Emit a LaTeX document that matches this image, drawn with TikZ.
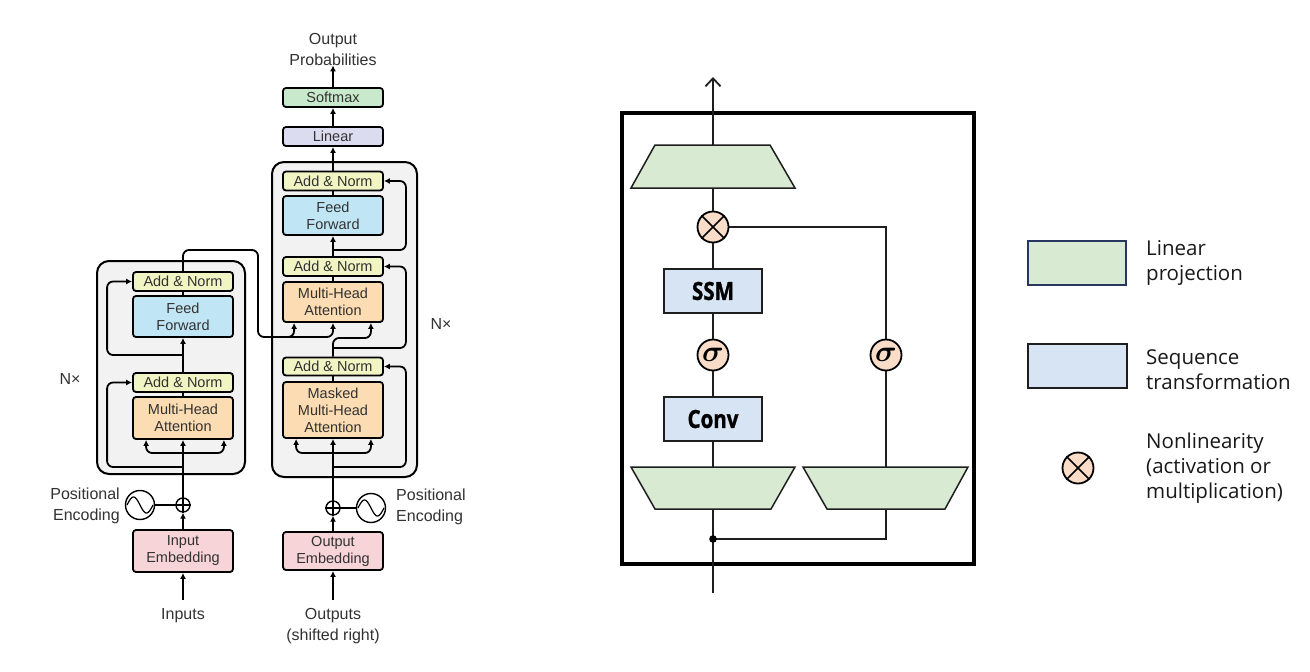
\RequirePackage{fix-cm}
\documentclass[tikz,border=0pt]{standalone}
\usepackage{bm}
\usepackage{fontspec}
\setmainfont{Liberation Sans}
\newfontfamily\legendfont{Open Sans}
\newfontfamily\seqfont[FakeStretch=0.82, BoldFeatures={FakeBold=1.2}]{Open Sans}
\usetikzlibrary{arrows.meta,calc}
\definecolor{layercol}{RGB}{242,242,242}
\definecolor{ancol}{RGB}{240,245,195}
\definecolor{ffcol}{RGB}{192,230,246}
\definecolor{mhacol}{RGB}{252,220,178}
\definecolor{embcol}{RGB}{247,212,216}
\definecolor{lincol}{RGB}{220,220,240}
\definecolor{softcol}{RGB}{201,233,205}
\definecolor{txtgray}{RGB}{50,50,50}
\definecolor{trapcol}{RGB}{217,234,211}
\definecolor{seqcol}{RGB}{214,228,243}
\definecolor{nlcol}{RGB}{250,221,200}
\definecolor{mgray}{RGB}{30,30,30}
\definecolor{legnavy}{RGB}{40,55,95}
\begin{document}
\begin{tikzpicture}[x=1pt,y=-1pt,
  tbox/.style={draw=black, line width=1.8pt, rounded corners=3pt, minimum width=100pt, inner sep=0pt, align=center, font=\fontsize{14.5}{17}\selectfont, text=txtgray},
  an/.style={tbox, fill=ancol, minimum height=19pt},
  ffbox/.style={tbox, fill=ffcol, minimum height=41pt},
  mha/.style={tbox, fill=mhacol, minimum height=42pt},
  emb/.style={tbox, fill=embcol, minimum height=42pt},
  layer/.style={draw=black, line width=2pt, fill=layercol, rounded corners=12pt, inner sep=0pt},
  tline/.style={line width=1.8pt, draw=black},
  tarr/.style={tline, -{Latex[length=6pt,width=6pt]}},
  rc/.style={rounded corners=6pt},
  lab/.style={font=\fontsize{16}{21}\selectfont, text=txtgray, align=center, inner sep=0pt},
  plus/.style={circle, draw=black, line width=1.4pt, fill=white, minimum size=14pt, inner sep=0pt},
  sine/.style={circle, draw=black, line width=1.4pt, fill=white, minimum size=29pt, inner sep=0pt},
  trap/.style={draw=mgray, line width=1.5pt, fill=trapcol},
  seq/.style={draw=mgray, line width=1.7pt, fill=seqcol, minimum width=98pt, minimum height=44pt, inner sep=0pt, font=\seqfont\bfseries\fontsize{25}{25}\selectfont},
  nl/.style={circle, draw=black, line width=1.8pt, fill=nlcol, minimum size=31pt, inner sep=0pt, font=\fontsize{30}{30}\selectfont},
  mline/.style={line width=1.8pt, draw=mgray},
  legtxt/.style={font=\legendfont\fontsize{20.5}{25}\selectfont, align=left, inner sep=0pt, anchor=west, text=black!90}
]
\useasboundingbox (0,0) rectangle (1310,672);
\fill[white] (0,0) rectangle (1310,672);

% ---------------- Transformer: encoder ----------------
\node[layer, minimum width=148pt, minimum height=213pt] (encbox) at (171,367.5) {};
\node[an] (eAN2) at (183,281.5) {Add \& Norm};
\node[ffbox] (eFF) at (183,316.5) {Feed\\Forward};
\node[an] (eAN1) at (183,382.5) {Add \& Norm};
\node[mha] (eMHA) at (183,418) {Multi-Head\\Attention};
\node[emb] (eEmb) at (183,551) {Input\\Embedding};
\node[plus] (eplus) at (183,505) {};
\draw[line width=1.2pt] (eplus.north) -- (eplus.south) (eplus.west) -- (eplus.east);
\node[sine] (esine) at (140,505) {};
\draw[line width=1.2pt, shift={(esine.center)}] plot[domain=-13:13, samples=40, smooth] (\x,{8*sin(\x/13*180)});
\node[lab, align=right, anchor=east] (epos) at (120,506) {Positional\\Encoding};
\node[lab] (inputs) at (183,616) {Inputs};
\node[lab] (enx) at (70,379) {N×};

\coordinate (eIn) at (183,600);
\draw[tarr] (eIn) -- (eEmb.south);
\draw[tarr] (eEmb.north) -- (eplus.south);
\draw[tline] (esine.east) -- (eplus.west);
\draw[tarr] (eplus.north) -- (eMHA.south);
\coordinate (eSplit) at (183,453);
\draw[tarr, rc] (eSplit) -| ([xshift=14pt]eMHA.south west);
\draw[tarr, rc] (eSplit) -| ([xshift=-10pt]eMHA.south east);
\coordinate (eRes1) at (183,467);
\draw[tarr, rc] (eRes1) -| ([xshift=-25pt]eAN1.west) -- (eAN1.west);
\draw[tline] (eMHA.north) -- (eAN1.south);
\draw[tarr] (eAN1.north) -- (eFF.south);
\coordinate (eRes2) at (183,355);
\draw[tarr, rc] (eRes2) -| ([xshift=-25pt]eAN2.west) -- (eAN2.west);
\draw[tline] (eFF.north) -- (eAN2.south);

% ---------------- Transformer: decoder ----------------
\node[layer, minimum width=145pt, minimum height=315pt] (decbox) at (344.5,319.5) {};
\node[an] (dAN3) at (333,181) {Add \& Norm};
\node[ffbox, minimum height=39pt] (dFF) at (333,215.5) {Feed\\Forward};
\node[an] (dAN2) at (333,266.5) {Add \& Norm};
\node[mha, minimum height=40pt] (dMHA) at (333,302) {Multi-Head\\Attention};
\node[an, minimum height=18pt] (dAN1) at (333,366.5) {Add \& Norm};
\node[mha, minimum height=56pt] (dMMHA) at (333,410) {Masked\\Multi-Head\\Attention};
\node[emb, minimum height=38pt] (dEmb) at (333,551) {Output\\Embedding};
\node[tbox, fill=lincol, minimum height=19pt] (lin) at (333,136.5) {Linear};
\node[tbox, fill=softcol, minimum height=19pt] (soft) at (333,97.5) {Softmax};
\node[plus] (dplus) at (333,508) {};
\draw[line width=1.2pt] (dplus.north) -- (dplus.south) (dplus.west) -- (dplus.east);
\node[sine] (dsine) at (371,508) {};
\draw[line width=1.2pt, shift={(dsine.center)}] plot[domain=-13:13, samples=40, smooth] (\x,{8*sin(\x/13*180)});
\node[lab, align=left, anchor=west] (dpos) at (396,507) {Positional\\Encoding};
\node[lab] (outprob) at (333,49) {Output\\Probabilities};
\node[lab] (outputs) at (333,626) {Outputs\\(shifted right)};
\node[lab] (dnx) at (441,324) {N×};

\coordinate (dIn) at (333,600);
\draw[tarr] (dIn) -- (dEmb.south);
\draw[tarr] (dEmb.north) -- (dplus.south);
\draw[tline] (dsine.west) -- (dplus.east);
\draw[tarr] (dplus.north) -- (dMMHA.south);
\coordinate (dSplit) at (333,453);
\draw[tarr, rc] (dSplit) -| ([xshift=14pt]dMMHA.south west);
\draw[tarr, rc] (dSplit) -| ([xshift=-13pt]dMMHA.south east);
\coordinate (dRes1) at (333,467);
\draw[tarr, rc] (dRes1) -| ([xshift=22pt]dAN1.east) -- (dAN1.east);
\draw[tline] (dMMHA.north) -- (dAN1.south);
\coordinate (dq1) at (333,348);
\coordinate (dq2) at (333,338);
\draw[tarr, rc] (dAN1.north) -- (dq2) -| ([xshift=-13pt]dMHA.south east);
\draw[tarr, rc] (dq1) -| ([xshift=22pt]dAN2.east) -- (dAN2.east);
\draw[tline] (dMHA.north) -- (dAN2.south);
\draw[tarr] (dAN2.north) -- (dFF.south);
\coordinate (dRes3) at (333,250);
\draw[tarr, rc] (dRes3) -| ([xshift=22pt]dAN3.east) -- (dAN3.east);
\draw[tline] (dFF.north) -- (dAN3.south);
\draw[tarr] (dAN3.north) -- (lin.south);
\draw[tarr] (lin.north) -- (soft.south);
\draw[tarr] (soft.north) -- (outprob.south);

% encoder output to decoder
\coordinate (eo1) at (183,250);
\coordinate (eo2) at (258,250);
\coordinate (eo3) at (258,337);
\coordinate (eo4) at (280,337);
\draw[tarr, rc] (eAN2.north) -- (eo1) -- (eo2) -- (eo3) -| ([xshift=12pt]dMHA.south west);
\draw[tarr, rc] (eo4) -| (dMHA.south);

% ---------------- Mamba block ----------------
\node[draw=black, line width=3.4pt, minimum width=352pt, minimum height=451pt, inner sep=0pt] (mbox) at (798,338.5) {};
\draw[trap] (655,145) -- (770,145) -- (795,188) -- (631,188) -- cycle;
\coordinate (Tt) at (713,145);
\coordinate (Tb) at (713,188);
\draw[trap] (631,467) -- (795,467) -- (771,509) -- (655,509) -- cycle;
\coordinate (BLt) at (713,467);
\coordinate (BLb) at (713,509);
\draw[trap] (803,467) -- (968,467) -- (945,509) -- (827,509) -- cycle;
\coordinate (BRt) at (886,467);
\coordinate (BRb) at (886,509);

\node[seq] (ssm) at (713,291) {SSM};
\node[seq] (conv) at (713,419) {Conv};
\node[nl] (otimes) at (713,227) {};
\draw[line width=1.7pt] (otimes.north west) -- (otimes.south east) (otimes.north east) -- (otimes.south west);
\node[nl] (sigL) at (713,355) {$\bm{\sigma}$};
\node[nl] (sigR) at (886,355) {$\bm{\sigma}$};

\coordinate (mIn) at (713,593);
\coordinate (mOut) at (713,77);
\coordinate (junc) at (713,539);
\draw[mline] (mIn) -- (BLb);
\draw[mline] (junc) -| (BRb);
\fill[black] (junc) circle (3.8pt);
\draw[mline] (BLt) -- (conv.south);
\draw[mline] (conv.north) -- (sigL.south);
\draw[mline] (sigL.north) -- (ssm.south);
\draw[mline] (ssm.north) -- (otimes.south);
\draw[mline] (otimes.north) -- (Tb);
\draw[mline, -{Straight Barb[length=8pt,width=15pt,line width=1.8pt]}] (Tt) -- (mOut);
\draw[mline] (BRt) -- (sigR.south);
\draw[mline] (sigR.north) |- (otimes.east);

% ---------------- Legend ----------------
\node[draw=legnavy, line width=1.4pt, fill=trapcol, minimum width=98pt, minimum height=44pt, inner sep=0pt] (legLin) at (1077,263) {};
\node[draw=mgray, line width=1.7pt, fill=seqcol, minimum width=99pt, minimum height=44pt, inner sep=0pt] (legSeq) at (1077.5,366) {};
\node[nl] (legNl) at (1078,468) {};
\draw[line width=1.7pt] (legNl.north west) -- (legNl.south east) (legNl.north east) -- (legNl.south west);
\node[legtxt] (tLin) at (1146,262.5) {Linear\\projection};
\node[legtxt] (tSeq) at (1146,369.5) {Sequence\\transformation};
\node[legtxt] (tNl) at (1146,468) {Nonlinearity\\(activation or\\multiplication)};
\end{tikzpicture}
\end{document}
